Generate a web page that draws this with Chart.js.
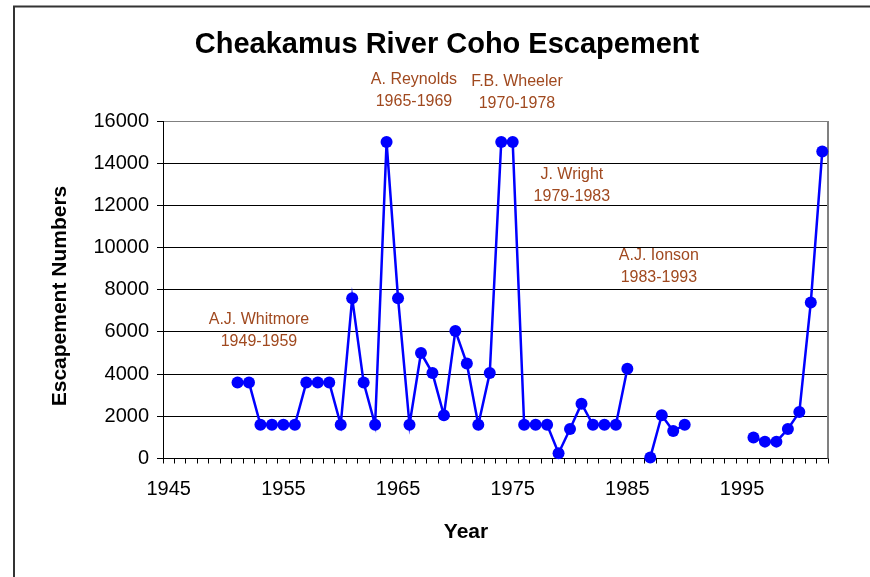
<!DOCTYPE html>
<html>
<head>
<meta charset="utf-8">
<script src="https://cdn.jsdelivr.net/npm/chart.js@4.4.1/dist/chart.umd.min.js"></script>
<style>
  html, body { margin: 0; padding: 0; background: #fff; }
  #wrap { position: relative; width: 870px; height: 577px; }
  canvas { display: block; }
</style>
</head>
<body>
<div id="wrap"><canvas id="c" width="870" height="577"></canvas></div>
<script>
// ---- Data ----
const years = [
  '1945','1946','1947','1948','1949','1950','1951','1952','1953','1954',
  '1955','1956','1957','1958','1959','1960','1961','1962','1963','1964',
  '1965','1966','1967','1968','1969','1970','1971','1972','1973','1974',
  '1975','1976','1977','1978','1979','1980','1981','1982','1983','1984',
  '1985','1986','1987','1988','1989','1990','1991','1992','1993','1994',
  '1995','1996','1997','1998','1999','2000','2001','2002'
];
const escapement = [
  null, null, null, null, null, null, 3600, 3600, 1600, 1600,
  1600, 1600, 3600, 3600, 3600, 1600, 7600, 3600, 1600, 15000,
  7600, 1600, 5000, 4050, 2050, 6050, 4500, 1600, 4050, 15000,
  15000, 1600, 1600, 1600, 250, 1400, 2600, 1600, 1600, 1600,
  4250, null, 50, 2050, 1300, 1600, null, null, null, null,
  null, 1000, 800, 800, 1400, 2200, 7400, 14550
];
const labeledYears = ['1945','1955','1965','1975','1985','1995'];
const yTicks = [0, 2000, 4000, 6000, 8000, 10000, 12000, 14000, 16000];

const chartTitle = 'Cheakamus River Coho Escapement';
const yTitle = 'Escapement Numbers';
const xTitle = 'Year';

// Manager annotations: name, period, anchor (category position, value)
const annoNames   = ['A.J. Whitmore', 'A. Reynolds', 'F.B. Wheeler', 'J. Wright', 'A.J. Ionson'];
const annoPeriods = ['1949-1959', '1965-1969', '1970-1978', '1979-1983', '1983-1993'];
const annoAt      = [7.87, 21.39, 30.37, 35.16, 42.75];
const annoValue   = [6050, 17420, 17325, 12920, 9080];

const FONT = '"Liberation Sans", Arial, sans-serif';

const decor = {
  id: 'decor',
  beforeDatasetsDraw(chart) {
    const {ctx, chartArea: a} = chart;
    ctx.save();
    ctx.strokeStyle = '#808080';
    ctx.lineWidth = 2;
    ctx.beginPath();
    ctx.moveTo(a.right, a.top);
    ctx.lineTo(a.right, a.bottom);
    ctx.stroke();
    ctx.restore();
  },
  afterDraw(chart) {
    const {ctx, scales} = chart;
    ctx.save();
    // outer chart border
    ctx.strokeStyle = '#333';
    ctx.lineWidth = 2;
    ctx.beginPath();
    ctx.moveTo(14, 577);
    ctx.lineTo(14, 6.5);
    ctx.lineTo(870, 6.5);
    ctx.stroke();

    ctx.fillStyle = '#000';
    ctx.textAlign = 'center';
    ctx.textBaseline = 'middle';
    ctx.font = 'bold 29px ' + FONT;
    ctx.fillText(chartTitle, 447, 45);

    ctx.font = 'bold 21px ' + FONT;
    ctx.fillText(xTitle, 466, 532);
    ctx.save();
    ctx.translate(60, 296);
    ctx.rotate(-Math.PI / 2);
    ctx.fillText(yTitle, 0, 0);
    ctx.restore();

    ctx.fillStyle = '#A0491F';
    ctx.font = '16px ' + FONT;
    for (let i = 0; i < annoNames.length; i++) {
      const x = scales.x.getPixelForValue(annoAt[i]);
      const y = scales.y.getPixelForValue(annoValue[i]);
      ctx.fillText(annoNames[i], x, y - 11);
      ctx.fillText(annoPeriods[i], x, y + 11);
    }
    ctx.restore();
  }
};

new Chart(document.getElementById('c'), {
  type: 'line',
  data: {
    labels: years,
    datasets: [{
      data: escapement,
      borderColor: '#0000FF',
      backgroundColor: '#0000FF',
      borderWidth: 2.5,
      pointRadius: 6,
      pointBackgroundColor: '#0000FF',
      pointBorderColor: '#0000FF',
      pointBorderWidth: 0,
      spanGaps: false,
      tension: 0,
      clip: false
    }]
  },
  options: {
    responsive: false,
    animation: false,
    devicePixelRatio: 1,
    layout: { padding: { left: 0, top: 121, right: 42, bottom: 0 } },
    plugins: { legend: { display: false }, title: { display: false }, tooltip: { enabled: false } },
    scales: {
      x: {
        type: 'category',
        offset: true,
        grid: { offset: true, drawOnChartArea: false, drawTicks: true, tickLength: 5, color: '#000', lineWidth: 1 },
        border: { display: true, color: '#000', width: 1 },
        ticks: {
          autoSkip: false, maxRotation: 0, minRotation: 0, padding: 14,
          color: '#000', font: { family: FONT, size: 20 },
          callback(val, idx) { const l = years[idx]; return labeledYears.includes(l) ? l : ''; }
        },
        afterFit(scale) { scale.height = 118.5; }
      },
      y: {
        min: 0, max: 16000,
        afterBuildTicks(scale) { scale.ticks = yTicks.map(v => ({ value: v })); },
        grid: {
          color: (c) => (c.tick && c.tick.value === 16000 ? '#808080' : '#000'),
          tickColor: '#000',
          lineWidth: 1, tickLength: 6, drawTicks: true
        },
        border: { display: true, color: '#000', width: 1 },
        ticks: {
          padding: 8, color: '#000', font: { family: FONT, size: 20 },
          callback(v) { return String(v); }
        },
        afterFit(scale) { scale.width = 163; }
      }
    }
  },
  plugins: [decor]
});
</script>
</body>
</html>
